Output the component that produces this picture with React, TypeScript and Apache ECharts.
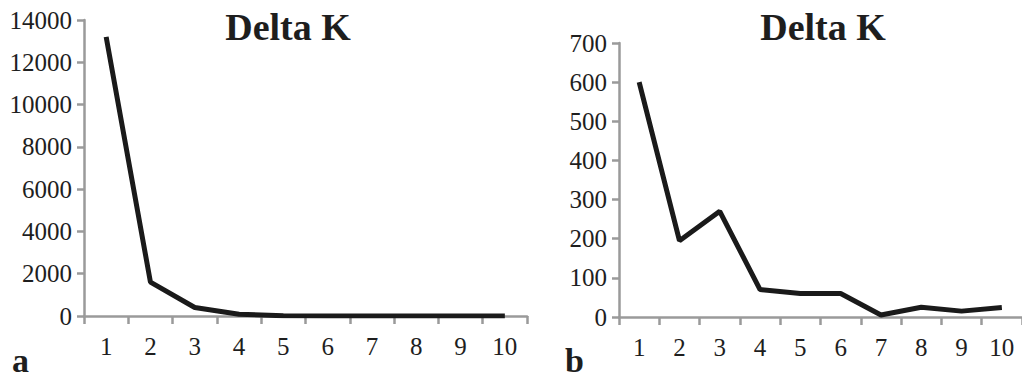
import React, { useEffect, useRef } from "react";
import * as echarts from "echarts";

const categories = ["1", "2", "3", "4", "5", "6", "7", "8", "9", "10"];
const deltaKA = [13200, 1600, 400, 80, 15, 5, 3, 2, 1, 1];
const deltaKB = [600, 195, 270, 70, 60, 60, 5, 25, 15, 24];
const titleText = "Delta K";
const panelLabels = ["a", "b"];

const FONT = "Liberation Serif";
const AXIS_GRAY = "#9a9a9a";
const TEXT = "#1e1e1e";

export default function App() {
  const ref = useRef<HTMLDivElement>(null);
  useEffect(() => {
    if (!ref.current) return;
    const chart = echarts.init(ref.current, undefined, { renderer: "svg" });
    const xAxisCommon = {
      type: "category" as const,
      data: categories,
      boundaryGap: true,
      axisLine: { lineStyle: { color: AXIS_GRAY, width: 2.5 } },
      axisTick: { show: true, interval: 0, length: 8, lineStyle: { color: AXIS_GRAY, width: 2.5 } },
      axisLabel: { interval: 0, margin: 18, fontSize: 25, fontFamily: FONT, color: TEXT },
      splitLine: { show: false },
    };
    const yAxisCommon = {
      type: "value" as const,
      min: 0,
      axisLine: { show: true, lineStyle: { color: AXIS_GRAY, width: 2.5 } },
      axisTick: { show: true, length: 7, lineStyle: { color: AXIS_GRAY, width: 2.5 } },
      axisLabel: {
        margin: 12,
        fontSize: 25,
        fontFamily: FONT,
        color: TEXT,
        formatter: (v: number) => String(v),
      },
      splitLine: { show: false },
    };
    const textStyle = (size: number, align: string, vAlign: string, text: string) => ({
      text,
      fontSize: size,
      fontWeight: "bold",
      fontFamily: FONT,
      fill: TEXT,
      align,
      verticalAlign: vAlign,
    });
    chart.setOption({
      animation: false,
      backgroundColor: "#ffffff",
      grid: [
        { left: 84, top: 20, width: 443, height: 296 },
        { left: 619, top: 43, width: 412, height: 274 },
      ],
      xAxis: [
        { ...xAxisCommon, gridIndex: 0 },
        { ...xAxisCommon, gridIndex: 1 },
      ],
      yAxis: [
        { ...yAxisCommon, gridIndex: 0, max: 14000, interval: 2000 },
        { ...yAxisCommon, gridIndex: 1, max: 700, interval: 100 },
      ],
      series: [
        {
          type: "line",
          xAxisIndex: 0,
          yAxisIndex: 0,
          data: deltaKA,
          symbol: "none",
          lineStyle: { color: "#1a1a1a", width: 5 },
        },
        {
          type: "line",
          xAxisIndex: 1,
          yAxisIndex: 1,
          data: deltaKB,
          symbol: "none",
          lineStyle: { color: "#1a1a1a", width: 5 },
        },
      ],
      graphic: [
        { type: "text", x: 288, y: 27, style: textStyle(38, "center", "middle", titleText) },
        { type: "text", x: 823, y: 27, style: textStyle(38, "center", "middle", titleText) },
        { type: "text", x: 12, y: 377, style: textStyle(34, "left", "bottom", panelLabels[0]) },
        { type: "text", x: 565, y: 377, style: textStyle(34, "left", "bottom", panelLabels[1]) },
      ],
    });
    return () => chart.dispose();
  }, []);
  return (
    <div
      ref={ref}
      style={{ position: "fixed", left: 0, top: 0, width: 1022, height: 377, background: "#fff" }}
    />
  );
}
